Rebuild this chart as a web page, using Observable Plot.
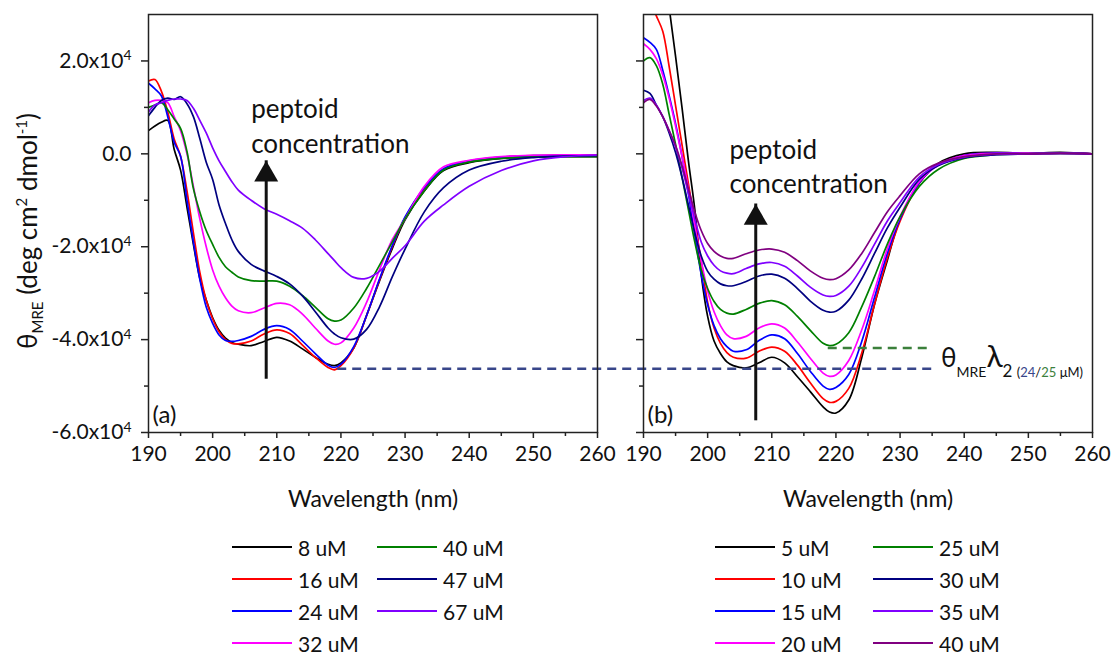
<!DOCTYPE html>
<html><head><meta charset="utf-8">
<script src="https://cdn.jsdelivr.net/npm/d3@7"></script>
<script src="https://cdn.jsdelivr.net/npm/@observablehq/plot@0.6"></script>
<style>
body{margin:0;background:#fff;font-family:Lato, sans-serif;}
#wrap{position:relative;width:1114px;height:657px;overflow:hidden;background:#fff;}
#chart{position:absolute;left:0;top:0;}
.legend{position:absolute;display:grid;grid-template-rows:repeat(4,32px);grid-auto-flow:column;font-size:21px;color:#111;font-family:Lato, sans-serif;}
.item{display:flex;align-items:center;}
.sw{width:60px;height:0;border-top:2px solid;margin-right:6px;}
</style></head><body>
<div id="wrap"><div id="chart"></div>
<div class="legend" id="legA" style="left:232px;top:531px;grid-template-columns:145px auto"></div>
<div class="legend" id="legB" style="left:715px;top:531px;grid-template-columns:158px auto"></div>
</div>
<script>
// wavelengths (nm)
const wavelengths = [190,191,192,193,194,195,196,197,198,199,200,201,202,203,204,206,208,210,212,214,216,218,219,220,222,224,226,228,230,233,236,240,245,250,255,260];
// values in units of 10^3 deg cm2 dmol-1
const panels = ["(a)", "(b)"];
const leftSeries = ["8 uM","16 uM","24 uM","32 uM","40 uM","47 uM","67 uM"];
const rightSeries = ["5 uM","10 uM","15 uM","20 uM","25 uM","30 uM","35 uM","40 uM"];

const a8  = [5.0,6.0,6.8,7.2,1.0,-3.5,-11.5,-19.5,-26.8,-31.5,-35.3,-38,-39.7,-40.6,-41.0,-41.3,-40.4,-39.5,-40.3,-42.0,-43.8,-45.3,-45.6,-45.0,-41.8,-34.8,-27.4,-20.4,-14.2,-8.0,-3.6,-1.9,-1.0,-0.7,-0.6,-0.6];
const a16 = [15.7,16.0,13.5,9.0,3.2,-0.5,-8,-17,-25.5,-31.5,-35.5,-38.3,-40,-40.8,-40.9,-40.3,-38.8,-37.9,-38.7,-41.2,-43.8,-46,-46.5,-45.6,-41.8,-34.8,-27.2,-20,-13.8,-7.5,-3.3,-1.6,-0.7,-0.4,-0.2,-0.3];
const a24 = [15.2,14.0,12.5,8.0,2.5,-0.5,-10,-19,-27,-33,-36.5,-39,-40.2,-40.4,-40.2,-39.3,-37.8,-37.0,-37.8,-40.3,-43,-45.5,-46.0,-45.3,-41.5,-34.8,-27,-19.8,-13.6,-7.3,-3.2,-1.5,-0.7,-0.4,-0.3,-0.3];
const a32 = [11.0,11.5,11.5,11.0,8.0,5.0,0,-7,-14,-20,-25,-28.5,-31,-32.8,-33.8,-34.2,-33.2,-32.2,-32.5,-34.5,-37.5,-40.3,-41.0,-40.7,-37.5,-32,-25,-18.5,-14,-7,-2.8,-1.4,-0.6,-0.3,-0.2,-0.2];
const a40 = [10.0,10.5,11.0,9.5,7.5,5.5,0.5,-7.5,-12.5,-16.5,-19.5,-22.3,-24.3,-25.5,-26.5,-27.3,-27.4,-27.4,-28.5,-30.5,-33,-35.5,-36.0,-35.8,-33.2,-29,-24,-19,-14,-8,-3.5,-1.8,-1.0,-0.7,-0.6,-0.6];
const a47 = [8.2,10,11.5,12.0,11.7,12.3,10.8,8,3.3,-1.8,-5.5,-11,-15,-18.5,-21,-23.8,-25.2,-26.4,-28.0,-30.6,-34,-37.5,-38.8,-39.6,-39.9,-37.8,-33,-26.5,-20.5,-12.5,-7.3,-3.5,-1.6,-0.8,-0.5,-0.4];
const a67 = [9.0,10.5,11.0,11.5,11.8,11.8,11.5,9.8,7.2,4.5,1.3,-1.5,-3.8,-6,-7.8,-10,-11.8,-13,-14.4,-16,-18.5,-21.5,-23,-24.5,-26.6,-26.8,-25.3,-22.5,-19.8,-14.5,-11,-7,-3.6,-1.5,-0.6,-0.3];

const b5  = [70,62,52,42,31.5,21,10,-1.5,-12,-26,-35,-40.3,-43,-44.8,-45.6,-46.1,-45,-43.8,-45,-48,-51.2,-54.5,-55.6,-55.8,-53,-44,-32.5,-23,-14,-6.3,-2.0,0,0.3,0.1,0.3,0];
const b10 = [36,33,29.7,26.4,18.8,10.4,2,-6.4,-14.8,-23,-32,-37.5,-40.8,-42.8,-43.8,-44,-42.5,-41.6,-42.5,-45.5,-49.3,-52.7,-53.5,-53.3,-50.5,-43,-32.5,-22.5,-14.5,-6.3,-2.2,-0.3,0.2,0.1,0.2,0];
const b15 = [25,24,22.5,18,12.5,6.5,-0.5,-8.5,-17.5,-26,-32.5,-37,-39.8,-41.5,-42.5,-42.2,-40.2,-39,-39.8,-43,-46.8,-50,-50.7,-50.3,-47.5,-40.5,-31,-21.5,-14,-6.2,-2.3,-0.3,0.2,0.1,0.2,0];
const b20 = [23.7,22.5,20.5,17,12,6,-0.5,-7.5,-15.5,-23,-29.5,-34,-37,-39,-39.8,-39.3,-37.5,-36.6,-37.5,-40.5,-44,-47.2,-47.9,-47.6,-44.5,-38,-29.5,-20.5,-13.5,-6,-2.4,-0.4,0.1,0.1,0.2,0];
const b25 = [20,20.7,19,15,8.5,2,-5,-12,-19,-25,-29,-31.8,-33.5,-34.3,-34.5,-33.5,-32.2,-31.6,-32.5,-35,-38,-40.8,-41.3,-41,-38.5,-33,-26.5,-19.5,-13.5,-7,-3.3,-1,-0.2,0,0.1,0];
const b30 = [13.7,13,10.5,8,4.5,0.3,-5,-11,-17,-22,-25.3,-27,-28,-28.4,-28.4,-27.5,-26.3,-25.9,-26.8,-29,-31.7,-33.7,-34.1,-33.9,-31.5,-27,-21.5,-16,-11.5,-5.5,-2.5,-0.8,-0.2,0,0.1,0];
const b35 = [11.5,12,10.5,8,5,1.5,-3,-8.5,-14,-19,-22,-24,-25.2,-25.7,-25.8,-24.7,-23.7,-23.4,-24.2,-26.3,-28.7,-30.4,-30.7,-30.5,-28.5,-24.5,-19.5,-14.5,-10.5,-5,-2.3,-0.7,-0.1,0,0.1,0];
const b40 = [11,11.7,10.3,8,5,1.8,-2.5,-7.5,-12.5,-16.5,-19.3,-21,-22,-22.5,-22.5,-21.5,-20.7,-20.5,-21.2,-23,-25.2,-26.8,-27.1,-26.9,-25,-21.5,-17,-12.5,-9,-4.3,-2,-0.6,0,0,0.1,0];

const leftValues = [a8,a16,a24,a32,a40,a47,a67];
const rightValues = [b5,b10,b15,b20,b25,b30,b35,b40];
const leftColors = ["#000000","#ff0000","#0000ff","#ff00ff","#008000","#000080","#8000ff"];
const rightColors = ["#000000","#ff0000","#0000ff","#ff00ff","#008000","#000080","#8000ff","#800080"];

const yTicks = [-60000,-40000,-20000,0,20000];
const yMinor = [-50000,-30000,-10000,10000];
const xTicks = [190,200,210,220,230,240,250,260];
const xMinor = [195,205,215,225,235,245,255];

// annotations (nm, 10^3 units)
const arrows = [{panel:"(a)", x:208.35, from:-45.95, to:-1.5},{panel:"(b)", x:207.5, from:-54.9, to:-10.8}];
const notes = [
  {panel:"(a)", x:206.0, y:7.67, text:"peptoid"},
  {panel:"(a)", x:206.0, y:0.28, text:"concentration"},
  {panel:"(b)", x:203.4, y:-1.15, text:"peptoid"},
  {panel:"(b)", x:203.4, y:-8.5, text:"concentration"}
];
const blueGuide = [{panel:"(a)", y:-46.3, x1:219.5, x2:312.2}];
const greenGuide = [{panel:"(b)", y:-41.8, x1:218.8, x2:234.6}];

const rows = [];
leftValues.forEach((arr, si) => arr.forEach((v, i) => rows.push({panel:"(a)", key:"a " + leftSeries[si], wl:wavelengths[i], v:v*1000})));
rightValues.forEach((arr, si) => arr.forEach((v, i) => rows.push({panel:"(b)", key:"b " + rightSeries[si], wl:wavelengths[i], v:v*1000})));
const colorDomain = [...leftSeries.map(s => "a " + s), ...rightSeries.map(s => "b " + s)];
const colorRange = [...leftColors, ...rightColors];

const fmt = v => v === 0 ? "0.0" : (v/1e4).toFixed(1) + "x10";
const ink = "#222";

const plot = Plot.plot({
  width: 1114, height: 530,
  marginLeft: 147, marginRight: 21, marginTop: 14, marginBottom: 98,
  style: {fontFamily: "Lato, sans-serif", fontSize: "21px", color: "#111", background: "#fff", overflow: "visible"},
  fx: {domain: panels, paddingInner: 0.0927, paddingOuter: 0, axis: null, label: null},
  x: {domain: [190, 260]},
  y: {domain: [-60000, 30000]},
  color: {domain: colorDomain, range: colorRange},
  marks: [
    Plot.line(rows, {fx:"panel", x:"wl", y:"v", z:"key", stroke:"key", strokeWidth:1.7, curve:"catmull-rom", clip:true}),
    Plot.ruleY(blueGuide, {fx:"panel", y:d => d.y*1000, x1:"x1", x2:"x2", stroke:"#38468a", strokeWidth:2.5, strokeDasharray:"9,6"}),
    Plot.ruleY(greenGuide, {fx:"panel", y:d => d.y*1000, x1:"x1", x2:"x2", stroke:"#3b803b", strokeWidth:2.5, strokeDasharray:"9,6"}),
    Plot.ruleX(arrows, {fx:"panel", x:"x", y1:d => d.from*1000, y2:d => d.to*1000, stroke:"#111", strokeWidth:3, insetTop:12}),
    Plot.dot(arrows, {fx:"panel", x:"x", y:d => d.to*1000, symbol:"triangle", r:8.9, fill:"#111", dy:13.9}),
    Plot.text(notes, {fx:"panel", x:"x", y:d => d.y*1000, text:"text", textAnchor:"start", lineAnchor:"bottom", fontSize:26, fill:"#111"}),
    Plot.text(panels, {fx:d => d, text:d => d, frameAnchor:"bottom-left", dx:4, dy:-10, fontSize:24, fill:"#111"}),
    Plot.text(panels, {fx:d => d, text:() => "Wavelength (nm)", frameAnchor:"bottom", lineAnchor:"middle", dy:67, fontSize:23, fill:"#111"}),
    Plot.frame({stroke:ink, strokeWidth:1.5}),
    Plot.axisX({ticks:xTicks, tickSize:6, tickPadding:8, tickFormat:d => String(d), label:null, fontSize:21, stroke:ink, strokeWidth:1.5}),
    Plot.axisX({ticks:xMinor, tickSize:4, tickFormat:() => "", fill:"none", label:null, stroke:ink, strokeWidth:1.5}),
    Plot.axisY({ticks:yTicks, tickSize:7, tickFormat:() => "", fill:"none", label:null, facetAnchor:null, stroke:ink, strokeWidth:1.5}),
    Plot.axisY({ticks:yMinor, tickSize:4, tickFormat:() => "", fill:"none", label:null, facetAnchor:null, stroke:ink, strokeWidth:1.5}),
    Plot.axisY({ticks:yTicks, tickSize:0, tickPadding:17, tickFormat:fmt, label:null, fontSize:21, fill:"#111"})
  ]
});
document.getElementById("chart").appendChild(plot);

const svg = d3.select(plot);
// superscript exponent on y tick labels
svg.selectAll("text").each(function() {
  const t = d3.select(this);
  if (this.childNodes.length === 1 && this.childNodes[0].nodeType === 3 && /x10$/.test(this.textContent)) {
    t.append("tspan").attr("dy", "-0.55em").attr("font-size", "0.66em").text("4");
  }
});
// y axis title
const yt = svg.append("text").attr("transform", "translate(37,231) rotate(-90)").attr("text-anchor", "middle")
  .attr("font-family", "Lato, sans-serif").attr("font-size", 26).attr("fill", "#111");
yt.append("tspan").text("θ");
yt.append("tspan").attr("font-size", 15).attr("dy", 6).text("MRE");
yt.append("tspan").attr("dy", -6).text(" (deg cm");
yt.append("tspan").attr("font-size", 15).attr("dy", -10).text("2");
yt.append("tspan").attr("dy", 10).text(" dmol");
yt.append("tspan").attr("font-size", 15).attr("dy", -10).text("-1");
yt.append("tspan").attr("dy", 10).text(")");
// guide annotation
const an = svg.append("text").attr("x", 941).attr("y", 367).attr("text-anchor", "start")
  .attr("font-family", "Lato, sans-serif").attr("fill", "#111").attr("font-size", 26);
an.append("tspan").text("θ");
an.append("tspan").attr("font-size", 14).attr("dy", 10).text("MRE");
an.append("tspan").attr("font-size", 30).attr("dy", -10).text("λ");
an.append("tspan").attr("font-size", 17).attr("dy", 10).text("2 ");
an.append("tspan").attr("font-size", 13).text("(");
an.append("tspan").attr("font-size", 13).attr("fill", "#38468a").text("24");
an.append("tspan").attr("font-size", 13).text("/");
an.append("tspan").attr("font-size", 13).attr("fill", "#3b803b").text("25");
an.append("tspan").attr("font-size", 13).text(" μM)");

// legends
function legend(id, names, colors) {
  const el = document.getElementById(id);
  names.forEach((n, i) => {
    const it = document.createElement("div"); it.className = "item";
    const sw = document.createElement("span"); sw.className = "sw"; sw.style.borderTopColor = colors[i];
    const tx = document.createElement("span"); tx.textContent = n;
    it.appendChild(sw); it.appendChild(tx); el.appendChild(it);
  });
}
legend("legA", leftSeries, leftColors);
legend("legB", rightSeries, rightColors);
</script>
</body></html>
